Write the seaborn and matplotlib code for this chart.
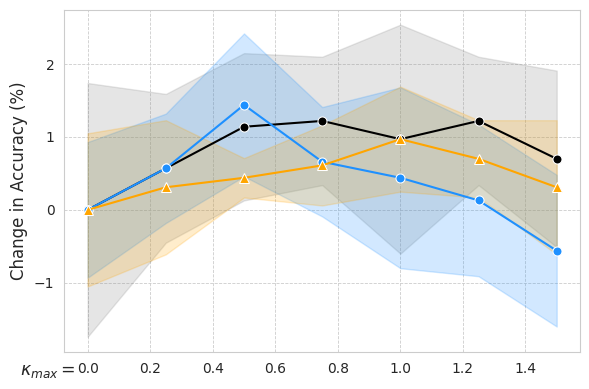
import numpy as np
import pandas as pd
import matplotlib
matplotlib.use('Agg')
import matplotlib.pyplot as plt
import seaborn as sns

# kappa_max values
kappa = [0.0, 0.25, 0.5, 0.75, 1.0, 1.25, 1.5]

# mean change in accuracy (%) and std
black_mean = [0.0, 0.57, 1.14, 1.22, 0.97, 1.22, 0.70]
black_sd   = [1.74, 1.02, 1.01, 0.88, 1.57, 0.88, 1.21]

blue_mean = [0.0, 0.57, 1.44, 0.66, 0.44, 0.13, -0.56]
blue_sd   = [0.93, 0.75, 0.98, 0.75, 1.24, 1.04, 1.04]

orange_mean = [0.0, 0.31, 0.44, 0.61, 0.97, 0.70, 0.31]
orange_sd   = [1.05, 0.92, 0.27, 0.55, 0.72, 0.53, 0.92]

series = [
    ('black', 'o', black_mean, black_sd),
    ('dodgerblue', 'o', blue_mean, blue_sd),
    ('orange', '^', orange_mean, orange_sd),
]

sns.set_style('whitegrid', {'grid.linestyle': '--'})

fig = plt.figure(figsize=(5.89, 3.89), dpi=100)
ax = fig.add_axes([0.109, 0.095, 0.876, 0.879])

for color, marker, mean, sd in series:
    df = pd.DataFrame({'kappa': kappa, 'mean': mean, 'sd': sd})
    band = 'gray' if color == 'black' else color
    ax.fill_between(df['kappa'], df['mean'] - df['sd'], df['mean'] + df['sd'],
                    color=band, alpha=0.2)

for color, marker, mean, sd in series:
    df = pd.DataFrame({'kappa': kappa, 'mean': mean})
    sns.lineplot(data=df, x='kappa', y='mean', color=color, marker=marker,
                 markersize=6.5, markeredgecolor='white', linewidth=1.5, ax=ax)

ax.grid(True, linestyle='--', linewidth=0.6, color='#cccccc')
ax.set_ylabel('Change in Accuracy (%)', fontsize=12)
ax.set_xlabel(None)
ax.text(0.022, -0.054, r'$\kappa_{max} =$', transform=ax.transAxes,
        ha='right', va='center', fontsize=12.5)
ax.set_yticks([-1, 0, 1, 2])
ax.set_ylim(-1.95, 2.74)
ax.set_xlim(-0.075, 1.575)
ax.tick_params(labelsize=10)
for s in ax.spines.values():
    s.set_color('#cccccc')

fig.savefig('out.png', dpi=100)
